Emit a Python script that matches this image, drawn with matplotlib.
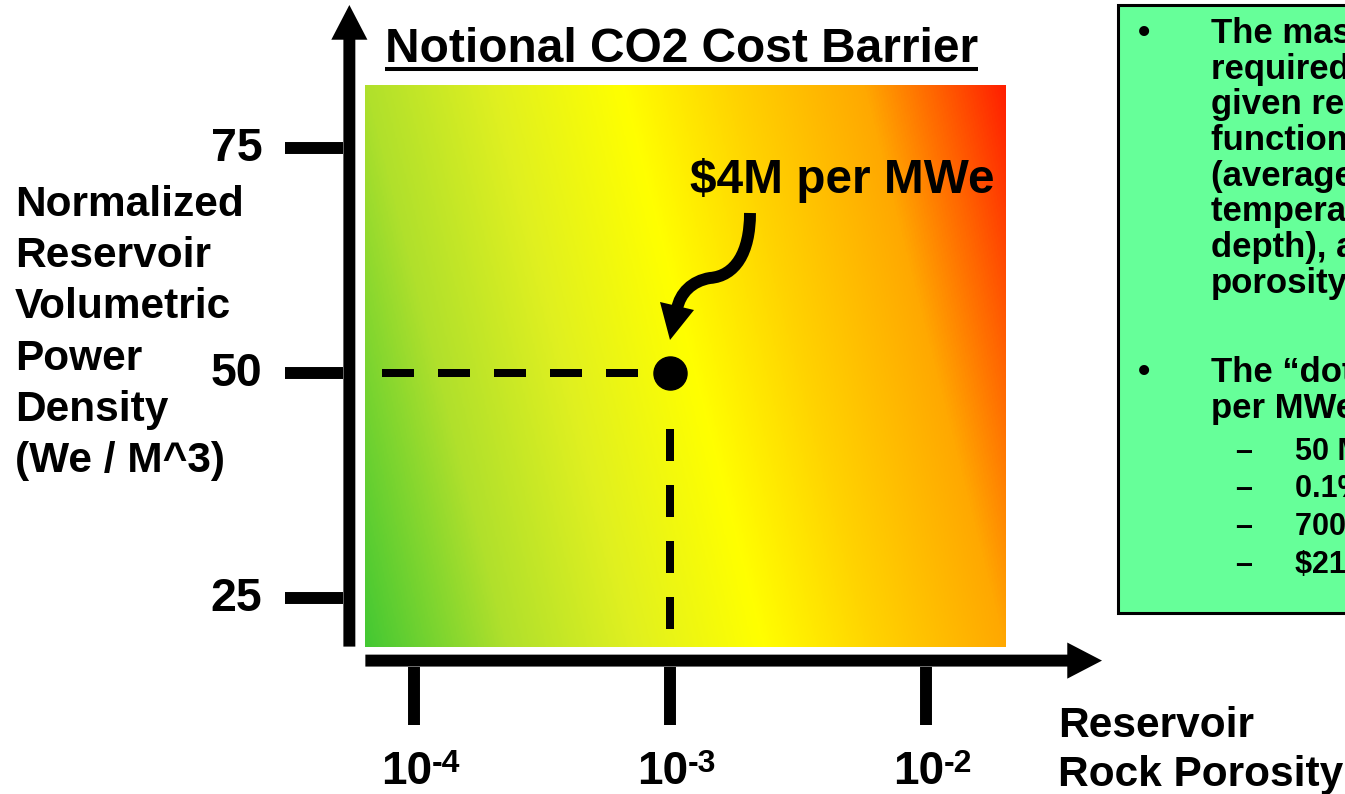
import numpy as np
import matplotlib
matplotlib.use("Agg")
import matplotlib.pyplot as plt
import matplotlib.transforms as mtransforms
from matplotlib.colors import LinearSegmentedColormap
from matplotlib.patches import Rectangle, PathPatch, Polygon
from matplotlib.path import Path

plt.rcParams['font.family'] = ['Liberation Sans', 'DejaVu Sans']
plt.rcParams['font.weight'] = 'bold'

# chart values
porosity_ticks = [1e-4, 1e-3, 1e-2]
porosity_exponents = ['-4', '-3', '-2']
density_ticks = [25, 50, 75]
porosity_range = [10 ** -4.19, 10 ** -1.69]   # extent of the cost map
density_range = [19.6, 82.0]
dot_porosity = 1e-3
dot_density = 50
dot_label = '$4M per MWe'

# colour ramp of the cost map (green = cheap, red = expensive)
cost_stops = [0.0, 0.18, 0.344, 0.508, 0.656, 0.82, 0.902, 1.0]
cost_colors = ['#44c833', '#b0e02c', '#e0f020', '#ffff00',
               '#ffd200', '#ffa800', '#ff6a00', '#ff2000']

title = 'Notional CO2 Cost Barrier'
y_label = ['Normalized', 'Reservoir', 'Volumetric', 'Power', 'Density', '(We / M^3)']
x_label = ['Reservoir', 'Rock Porosity']
note_1 = ['The mass of CO2 that is', 'required to sustain a', 'given reservoir is a',
          'function of power density', '(average reservoir', 'temperature and',
          'depth), and rock', 'porosity']
note_2 = ['The \u201cdot\u201d is about $4M', 'per MWe, assuming:']
note_items = ['50 MWe', '0.1% porosity', '700 kg/m^3 CO2', '$21/ton CO2']


fig = plt.figure(figsize=(13.45, 7.94), dpi=100)
ax = fig.add_axes([0, 0, 1, 1])

PPD = 256.0   # pixels per decade of porosity
PPU = 9.0     # pixels per unit of power density
x_lo = np.log10(porosity_ticks[0]) - 414 / PPD
y_hi = density_ticks[1] + 373 / PPU
ax.set_xlim(x_lo, x_lo + 1345 / PPD)
ax.set_ylim(y_hi - 794 / PPU, y_hi)
ax.axis('off')


def at(xp, yp):
    # slide pixel position -> data coords (layout of decorations only)
    return x_lo + xp / PPD, y_hi - yp / PPU


# cost map
gx = np.log10(porosity_range)
u = np.linspace(0, 1, 500)
v = np.linspace(0, 1, 300)
U, V = np.meshgrid(u, v)
cmap = LinearSegmentedColormap.from_list('cost', list(zip(cost_stops, cost_colors)))
ax.imshow((U + 0.22 * V) / 1.22, cmap=cmap, vmin=0, vmax=1, origin='lower',
          aspect='auto', interpolation='bilinear', zorder=1,
          extent=[gx[0], gx[1], density_range[0], density_range[1]])

# hand drawn axes with arrow heads
ax_x = gx[0] - 16 / PPD
ax_y = density_range[0] - 14 / PPU
arrow = dict(arrowstyle='simple,head_length=25,head_width=26,tail_width=8.6',
             mutation_scale=1, fc='black', ec='none', shrinkA=0, shrinkB=0)
ax.annotate('', xy=(ax_x, y_hi - 5 / PPU), xytext=(ax_x, density_range[0]), arrowprops=arrow)
ax.annotate('', xy=(at(1102, 0)[0], ax_y), xytext=(gx[0], ax_y), arrowprops=arrow)

for p, e in zip(porosity_ticks, porosity_exponents):
    x = np.log10(p)
    ax.plot([x, x], [ax_y - 6 / PPU, ax_y - 64 / PPU], color='black', lw=8.6,
            solid_capstyle='butt')
    ax.annotate('10', (x, ax_y), xytext=(18, -123), textcoords='offset pixels',
                ha='right', va='baseline', fontsize=33)
    ax.annotate(e, (x, ax_y), xytext=(18, -111), textcoords='offset pixels',
                ha='left', va='baseline', fontsize=23)

for d in density_ticks:
    ax.plot([ax_x - 64 / PPD, ax_x - 6 / PPD], [d, d], color='black', lw=8.6,
            solid_capstyle='butt')
    ax.annotate(str(d), (ax_x, d), xytext=(-87, -13), textcoords='offset pixels',
                ha='right', va='baseline', fontsize=33.5)

# reference point with dashed guides
dx0 = np.log10(dot_porosity)
dy0 = dot_density
ax.plot([gx[0] + 17 / PPD, dx0 - 31 / PPD], [dy0, dy0], color='black', lw=5.76,
        dashes=(4, 3), dash_capstyle='butt', zorder=3)
ax.plot([dx0, dx0], [density_range[0] + 18 / PPU, dy0 - 56 / PPU], color='black',
        lw=5.76, dashes=(4, 3), dash_capstyle='butt', zorder=3)
ax.plot(dx0, dy0, 'o', ms=23.8, color='black', zorder=5)

# curly arrow from the label to the dot (pixels relative to the dot)
off = mtransforms.ScaledTranslation(dx0, dy0, ax.transData)
verts = [(80, 160), (80, 120), (65, 97), (40, 95), (22, 92), (10, 80), (7, 64)]
codes = [Path.MOVETO] + [Path.CURVE4] * 6
ax.add_patch(PathPatch(Path(verts, codes), transform=off, fill=False, lw=8.6,
                       capstyle='butt', ec='black', zorder=5))
ax.add_patch(Polygon([(-10, 71), (24, 63), (0, 33)], closed=True, transform=off,
                     fc='black', ec='none', zorder=5))
ax.text(*at(690, 193), dot_label, fontsize=34.4, ha='left', va='baseline', zorder=6)

# title with underline
t = ax.text(*at(385, 62), title, fontsize=34.5, ha='left', va='baseline')
fig.canvas.draw()
bb = t.get_window_extent().transformed(ax.transData.inverted())
ax.plot([bb.x0, bb.x1], [at(0, 69)[1]] * 2, color='black', lw=2.9, solid_capstyle='butt')

# axis titles
for i, line in enumerate(y_label):
    ax.text(*at(15, 216 + 51.2 * i), line, fontsize=30.5, ha='left', va='baseline')
for i, line in enumerate(x_label):
    ax.text(*at(1058, 737 + 49 * i), line, fontsize=30.5, ha='left', va='baseline')

# notes box on the right (runs off the slide)
x0, y0 = at(1118, 613)
ax.add_patch(Rectangle((x0, y0), 300 / PPD, 608 / PPU, fc='#66ff99', ec='black', lw=2.2))

ax.text(*at(1144, 43), '\u2022', fontsize=25, ha='center', va='baseline')
for i, line in enumerate(note_1):
    ax.text(*at(1211, 43 + 35.7 * i), line, fontsize=25, ha='left', va='baseline')
ax.text(*at(1144, 382), '\u2022', fontsize=25, ha='center', va='baseline')
for i, line in enumerate(note_2):
    ax.text(*at(1211, 382 + 36 * i), line, fontsize=25, ha='left', va='baseline')
for i, line in enumerate(note_items):
    ax.text(*at(1235, 460 + 37.5 * i), '\u2013', fontsize=22, ha='left', va='baseline')
    ax.text(*at(1295, 460 + 37.5 * i), line, fontsize=22, ha='left', va='baseline')

fig.savefig('out.png', dpi=100)
